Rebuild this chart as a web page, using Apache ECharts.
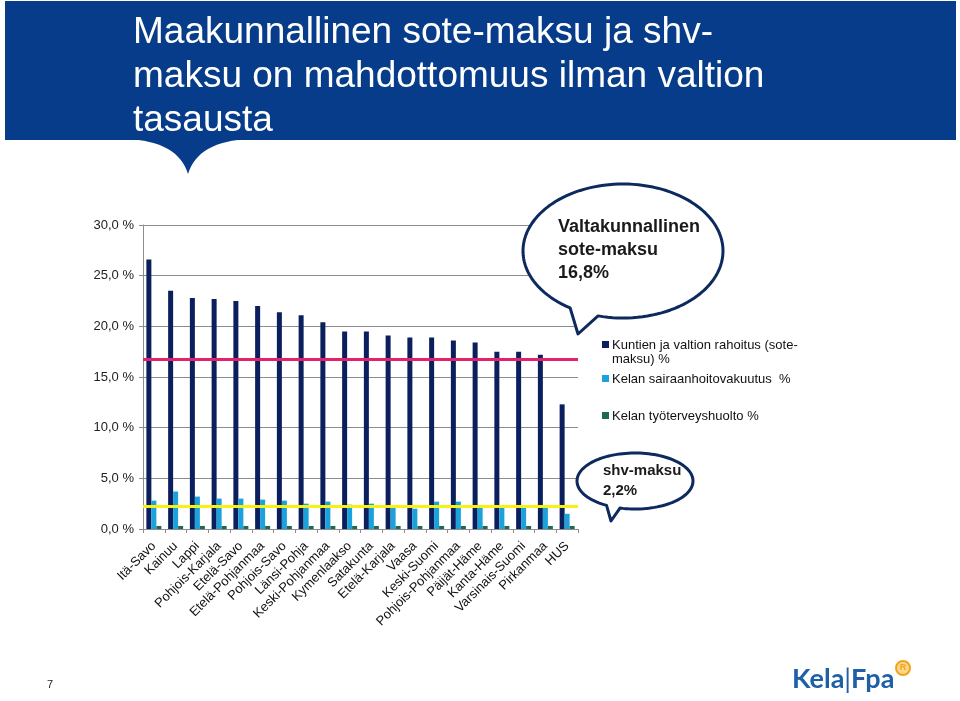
<!DOCTYPE html>
<html><head><meta charset="utf-8">
<script src="https://cdn.jsdelivr.net/npm/echarts@6/dist/echarts.min.js"></script>
<style>html,body{margin:0;padding:0;background:#fff}#c{width:960px;height:701px}</style>
</head><body><div id="c"></div>
<script>
const categories = ['Itä-Savo','Kainuu','Lappi','Pohjois-Karjala','Etelä-Savo','Etelä-Pohjanmaa','Pohjois-Savo','Länsi-Pohja','Keski-Pohjanmaa','Kymenlaakso','Satakunta','Etelä-Karjala','Vaasa','Keski-Suomi','Pohjois-Pohjanmaa','Päijät-Häme','Kanta-Häme','Varsinais-Suomi','Pirkanmaa','HUS'];
const soteMaksu = [26.6,23.5,22.8,22.7,22.5,22.0,21.4,21.1,20.4,19.5,19.5,19.1,18.9,18.9,18.6,18.4,17.5,17.5,17.2,12.3];
const sairaanhoito = [2.8,3.7,3.2,3.0,3.0,2.9,2.8,2.5,2.7,2.4,2.5,2.3,2.0,2.7,2.7,2.3,2.3,2.3,2.3,1.5];
const tyoterveys = [0.3,0.3,0.3,0.3,0.3,0.3,0.3,0.3,0.3,0.3,0.3,0.3,0.3,0.3,0.3,0.3,0.3,0.3,0.3,0.3];
const seriesNames = ['Kuntien ja valtion rahoitus (sote-maksu) %','Kelan sairaanhoitovakuutus  %','Kelan työterveyshuolto %'];
const legendLines = [['Kuntien ja valtion rahoitus (sote-','maksu) %'],['Kelan sairaanhoitovakuutus  %'],['Kelan työterveyshuolto %']];
const yTicks = [0,5,10,15,20,25,30];
const soteAverage = 16.8;
const shvAverage = 2.2;
const titleText = 'Maakunnallinen sote-maksu ja shv-\nmaksu on mahdottomuus ilman valtion\ntasausta';
const bigBubbleText = 'Valtakunnallinen\nsote-maksu\n16,8%';
const smallBubbleText = 'shv-maksu\n2,2%';

const colors = ['#0b1f5c','#1ba1dc','#1d6b4c'];
const FONT = 'Liberation Sans, Arial, sans-serif';
const chart = echarts.init(document.getElementById('c'));

// decorative shapes
function quad(p0, c, p1, n) {
  const pts = [];
  for (let i = 0; i <= n; i++) {
    const t = i / n, u = 1 - t;
    pts.push([u*u*p0[0] + 2*u*t*c[0] + t*t*p1[0], u*u*p0[1] + 2*u*t*c[1] + t*t*p1[1]]);
  }
  return pts;
}
const pointerPts = quad([126,139],[178,141],[188,174],16).concat(quad([188,174],[198,141],[250,139],16).slice(1));

function bubble(cx, cy, rx, ry, leftBase, rightBase, tip) {
  const angL = Math.atan2((leftBase[1]-cy)/ry, (leftBase[0]-cx)/rx);
  let angR = Math.atan2((rightBase[1]-cy)/ry, (rightBase[0]-cx)/rx);
  while (angR <= angL) angR += Math.PI*2;
  const pts = [];
  const n = 120;
  for (let i = 0; i <= n; i++) {
    const a = angL + (angR - angL) * i / n;
    pts.push([cx + rx*Math.cos(a), cy + ry*Math.sin(a)]);
  }
  pts.push(tip);
  return pts;
}
const bigBubble = bubble(623, 251, 100, 67, [570,308], [598,316], [578,334]);
const smallBubble = bubble(635, 481, 58, 28, [607,505], [620,508], [611,521]);

const legendGraphics = [];
const legendTop = [338, 372, 409];
legendLines.forEach((lines, i) => {
  legendGraphics.push({type:'rect', z:100, shape:{x:602, y:legendTop[i]+3, width:7, height:7}, style:{fill:colors[i]}});
  legendGraphics.push({type:'text', z:100, x:612, y:legendTop[i], style:{text:lines.join('\n'), font:'13px '+FONT, fill:'#111', lineHeight:14}});
});

const option = {
  animation:false,
  grid:{left:143, right:382, top:225, bottom:172},
  xAxis:{type:'category', data:categories,
    axisLine:{lineStyle:{color:'#8c8c8c'}},
    axisTick:{show:true, length:4, lineStyle:{color:'#8c8c8c'}},
    axisLabel:{rotate:45, interval:0, fontSize:13, color:'#111', fontFamily:FONT, margin:15}},
  yAxis:{type:'value', min:yTicks[0], max:yTicks[yTicks.length-1], interval:5,
    axisLine:{show:true, lineStyle:{color:'#8c8c8c'}},
    axisTick:{show:true, length:4, lineStyle:{color:'#8c8c8c'}},
    splitLine:{lineStyle:{color:'#8c8c8c'}},
    axisLabel:{formatter:v=>v.toFixed(1).replace('.',',')+' %', fontSize:13, color:'#222', fontFamily:FONT, margin:9}},
  series:[
    {name:seriesNames[0], type:'bar', data:soteMaksu, barWidth:5, barGap:'0%', itemStyle:{color:colors[0]}},
    {name:seriesNames[1], type:'bar', data:sairaanhoito, barWidth:5, barGap:'0%', itemStyle:{color:colors[1]}},
    {name:seriesNames[2], type:'bar', data:tyoterveys, barWidth:5, barGap:'0%', itemStyle:{color:colors[2]}},
    {type:'line', data:[], z:10, silent:true,
      markLine:{silent:true, symbol:'none', label:{show:false},
        data:[{yAxis:soteAverage, lineStyle:{color:'#e3226c', width:3, type:'solid'}},
              {yAxis:shvAverage, lineStyle:{color:'#f7f214', width:3, type:'solid'}}]}}
  ],
  graphic:[
    {type:'rect', z:100, shape:{x:5, y:1, width:951, height:139}, style:{fill:'#063c89'}},
    {type:'polygon', z:100, shape:{points:pointerPts}, style:{fill:'#063c89'}},
    {type:'text', z:101, x:133, y:11, style:{text:titleText, font:'37px '+FONT, fill:'#fff', lineHeight:44}},
    {type:'polygon', z:100, shape:{points:bigBubble}, style:{fill:'#fff', stroke:'#0d2a5e', lineWidth:3, lineJoin:'round'}},
    {type:'text', z:101, x:558, y:216, style:{text:bigBubbleText, font:'bold 18px '+FONT, fill:'#1a1a1a', lineHeight:23}},
    {type:'polygon', z:100, shape:{points:smallBubble}, style:{fill:'#fff', stroke:'#0d2a5e', lineWidth:3, lineJoin:'round'}},
    {type:'text', z:101, x:603, y:461, style:{text:smallBubbleText, font:'bold 15px '+FONT, fill:'#1a1a1a', lineHeight:20}},
    ...legendGraphics,
    {type:'text', z:100, x:47, y:679, style:{text:'7', font:'11px '+FONT, fill:'#222'}},
    {type:'text', z:100, x:792, y:666, style:{text:'{k|Kela}{b||}{k|Fpa}', rich:{k:{font:'bold 27px Lato, sans-serif', fill:'#1e5fa8'}, b:{font:'27px Lato, sans-serif', fill:'#1e5fa8'}}}},
    {type:'circle', z:100, shape:{cx:903, cy:668, r:7}, style:{fill:'#fcd98a', stroke:'#f2a31d', lineWidth:2}},
    {type:'text', z:101, x:903, y:668, style:{text:'R', font:'bold 9px '+FONT, fill:'#f2a31d', align:'center', verticalAlign:'middle'}}
  ]
};
chart.setOption(option);
</script>
</body></html>
